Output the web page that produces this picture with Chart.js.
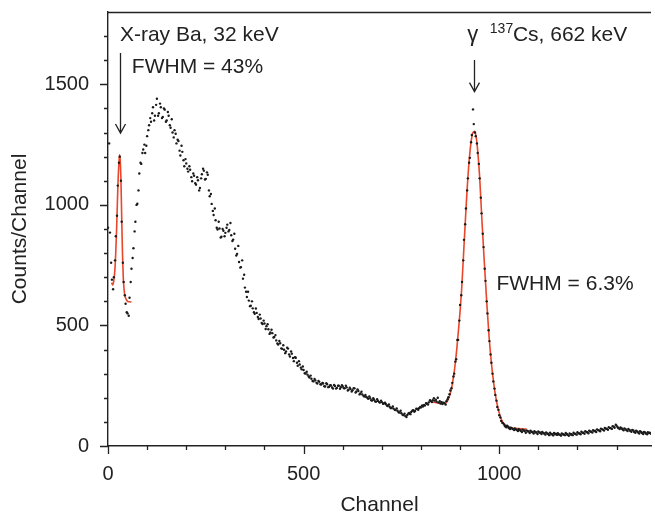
<!DOCTYPE html>
<html>
<head>
<meta charset="utf-8">
<script src="https://cdn.jsdelivr.net/npm/chart.js@4.4.1/dist/chart.umd.min.js"></script>
<style>
  html, body { margin: 0; padding: 0; background: #fff; }
  #wrap { width: 655px; height: 513px; }
</style>
</head>
<body>
<div id="wrap"><canvas id="spectrum"></canvas></div>
<script>
// spectrum readings, every 5 channels, two interleaved runs (channel 5i and 5i+3)
const CH_STEP = 5;
const countsA = [
  905, 885, 690, 700, 870, 1080, 1200, 930, 680, 590, 550, 615, 735, 820, 930, 1005, 1130, 1170, 1230, 1215,
  1285, 1330, 1345, 1405, 1370, 1440, 1380, 1405, 1365, 1395, 1350, 1370, 1320, 1300, 1310, 1255, 1265, 1205, 1220, 1160,
  1172, 1138, 1146, 1098, 1121, 1084, 1102, 1070, 1127, 1142, 1108, 1125, 1036, 1004, 958, 936, 898, 902, 868, 893,
  884, 918, 896, 874, 856, 818, 797, 763, 742, 694, 657, 618, 603, 582, 571, 548, 552, 527, 529, 506,
  508, 497, 484, 471, 468, 452, 438, 421, 426, 403, 399, 392, 404, 371, 383, 352, 366, 333, 338, 318,
  315, 301, 296, 284, 279, 268, 272, 259, 266, 255, 259, 247, 256, 246, 251, 238, 249, 241, 250, 244,
  247, 239, 243, 233, 236, 231, 239, 226, 228, 218, 214, 205, 203, 196, 198, 189, 192, 184, 187, 180,
  182, 176, 174, 166, 163, 158, 155, 149, 146, 139, 136, 128, 124, 129, 137, 141, 148, 146, 154, 157,
  160, 164, 168, 175, 181, 186, 190, 188, 184, 180, 176, 174, 178, 186, 202, 230, 262, 300, 360, 440,
  585, 680, 855, 985, 1110, 1195, 1290, 1335, 1285, 1215, 1110, 965, 825, 685, 550, 435, 345, 268, 212, 162,
  128, 104, 94, 82, 84, 74, 76, 70, 73, 66, 70, 63, 68, 62, 65, 60, 63, 57, 61, 56,
  60, 55, 58, 52, 56, 50, 55, 49, 54, 51, 53, 47, 52, 48, 54, 46, 52, 49, 55, 50,
  57, 52, 59, 55, 61, 57, 63, 59, 66, 62, 69, 65, 72, 68, 75, 71, 78, 74, 82, 76,
  84, 74, 77, 69, 73, 66, 71, 62, 67, 58, 63, 56, 61, 54, 58, 52, 57, 55
];
const countsB = [
  1255, 760, 650, 770, 955, 1175, 1100, 760, 625, 555, 540, 680, 780, 890, 1000, 1060, 1175, 1215, 1250, 1245,
  1310, 1360, 1380, 1350, 1415, 1370, 1420, 1360, 1400, 1345, 1385, 1330, 1355, 1280, 1295, 1270, 1225, 1245, 1185, 1190,
  1150, 1160, 1115, 1130, 1090, 1115, 1060, 1110, 1150, 1105, 1135, 1060, 1045, 975, 985, 905, 930, 865, 900, 870,
  905, 890, 925, 850, 880, 790, 830, 740, 770, 710, 640, 640, 580, 600, 555, 570, 535, 545, 510, 520,
  485, 505, 465, 482, 450, 460, 425, 436, 405, 418, 385, 408, 380, 392, 365, 368, 345, 352, 325, 330,
  302, 308, 288, 292, 270, 278, 262, 270, 256, 262, 248, 260, 244, 252, 243, 253, 238, 250, 237, 252,
  240, 250, 230, 242, 226, 240, 222, 235, 214, 225, 208, 212, 200, 206, 190, 198, 185, 194, 182, 188,
  175, 180, 168, 172, 157, 164, 150, 156, 140, 146, 130, 134, 120, 135, 132, 146, 142, 155, 150, 162,
  168, 170, 178, 172, 190, 182, 198, 192, 200, 186, 182, 180, 172, 194, 215, 240, 288, 350, 440, 520,
  625, 770, 920, 1060, 1175, 1260, 1396, 1300, 1255, 1170, 1030, 880, 735, 600, 480, 380, 300, 238, 188, 150,
  118, 96, 88, 78, 80, 70, 73, 66, 69, 62, 66, 58, 64, 55, 61, 54, 59, 52, 57, 50,
  56, 50, 54, 47, 52, 45, 50, 44, 49, 46, 48, 43, 49, 45, 50, 42, 48, 45, 51, 47,
  53, 49, 55, 51, 58, 53, 60, 56, 62, 58, 66, 61, 69, 64, 72, 67, 75, 71, 80, 88,
  78, 70, 74, 65, 70, 62, 67, 59, 64, 55, 60, 52, 58, 50, 56, 49, 54, 51
];

// fitted peaks
const xrayFitCh     = [9, 12, 15, 18, 20, 22, 24, 26, 28, 29.5, 31, 33, 35, 37, 39, 41, 43, 46, 50, 55, 60];
const xrayFitCounts = [678, 668, 688, 740, 810, 900, 1010, 1110, 1175, 1208, 1190, 1110, 950, 800, 700, 650, 625, 610, 600, 598, 597];

const csFitCh     = [826, 840, 852, 862, 868, 874, 880, 886, 892, 898, 904, 910, 916, 922, 928, 933, 937, 941, 945, 950, 956, 962, 968, 974, 980, 986, 992, 998, 1005, 1015, 1030, 1050, 1070];
const csFitCounts = [182, 180, 176, 177, 188, 212, 255, 320, 410, 520, 650, 830, 1010, 1160, 1260, 1300, 1305, 1282, 1225, 1115, 930, 760, 600, 455, 345, 260, 195, 150, 112, 87, 76, 72, 70];

// axes
const xTickValues = [0, 100, 200, 300, 400, 500, 600, 700, 800, 900, 1000, 1100, 1200, 1300];
const xTickLabels = [0, 500, 1000];
const yTickValues = [0, 100, 200, 300, 400, 500, 600, 700, 800, 900, 1000, 1100, 1200, 1300, 1400, 1500, 1600, 1700];
const yTickLabels = [0, 500, 1000, 1500];

const FONT = "'Liberation Sans', Arial, Helvetica, sans-serif";
const INK = '#222';
const FIT_RED = '#e8472b';

const toPoints = (xs, ys) => xs.map((v, i) => ({ x: v, y: ys[i] }));
const spectrumPoints = countsA.map((c, i) => ({ x: i * CH_STEP, y: c }))
  .concat(countsB.map((c, i) => ({ x: i * CH_STEP + 3, y: c })));

// arrows, texts and the short/long tick marks
const decorPlugin = {
  id: 'decor',
  afterDraw(chart) {
    const { ctx, chartArea: a, scales: { x, y } } = chart;
    ctx.save();
    ctx.strokeStyle = INK;
    ctx.lineWidth = 1.3;

    // top frame line
    ctx.beginPath();
    ctx.moveTo(a.left, a.top + 0.5);
    ctx.lineTo(a.right, a.top + 0.5);
    ctx.stroke();

    // tick marks (long at labelled ticks)
    ctx.beginPath();
    x.ticks.forEach(t => {
      const px = Math.round(x.getPixelForValue(t.value)) + 0.5;
      const len = t.label ? 8 : 4;
      ctx.moveTo(px, a.bottom);
      ctx.lineTo(px, a.bottom + len);
    });
    y.ticks.forEach(t => {
      const py = Math.round(y.getPixelForValue(t.value)) + 0.5;
      const len = t.label ? 8 : 4;
      ctx.moveTo(a.left, py);
      ctx.lineTo(a.left - len, py);
    });
    ctx.stroke();

    // arrows
    const arrow = (ch, from, to) => {
      const px = Math.round(x.getPixelForValue(ch)) + 0.5;
      const y1 = y.getPixelForValue(from);
      const y2 = y.getPixelForValue(to);
      ctx.beginPath();
      ctx.moveTo(px, y1);
      ctx.lineTo(px, y2);
      ctx.moveTo(px - 5, y2 - 9);
      ctx.lineTo(px, y2);
      ctx.lineTo(px + 5, y2 - 9);
      ctx.stroke();
    };
    arrow(30, 1630, 1298);
    arrow(935, 1601, 1470);

    // texts
    ctx.fillStyle = INK;
    ctx.textBaseline = 'alphabetic';
    ctx.textAlign = 'left';
    const text = (str, ch, c, size) => {
      ctx.font = size + 'px ' + FONT;
      ctx.fillText(str, x.getPixelForValue(ch), y.getPixelForValue(c));
    };
    text('X-ray Ba, 32 keV', 30.5, 1681, 21);
    text('FWHM = 43%', 61, 1547, 21);
    text('\u03b3', 918, 1681, 22);
    text('137', 976, 1713, 14);
    text('Cs, 662 keV', 1035, 1681, 21);
    text('FWHM = 6.3%', 993, 647, 21);
    ctx.restore();
  }
};

const ctx = document.getElementById('spectrum').getContext('2d');

new Chart(ctx, {
  type: 'scatter',
  data: {
    datasets: [
      {
        label: 'Spectrum',
        data: spectrumPoints,
        pointRadius: 1.2,
        pointBorderWidth: 0,
        pointBackgroundColor: '#1a1a1a',
        showLine: false,
        order: 0
      },
      {
        label: 'X-ray fit',
        data: toPoints(xrayFitCh, xrayFitCounts),
        showLine: true,
        borderColor: FIT_RED,
        borderWidth: 1.6,
        pointRadius: 0,
        cubicInterpolationMode: 'monotone',
        order: 1
      },
      {
        label: 'Cs fit',
        data: toPoints(csFitCh, csFitCounts),
        showLine: true,
        borderColor: FIT_RED,
        borderWidth: 1.6,
        pointRadius: 0,
        cubicInterpolationMode: 'monotone',
        order: 1
      }
    ]
  },
  options: {
    responsive: true,
    maintainAspectRatio: false,
    animation: false,
    layout: { padding: { top: 12, right: 0, bottom: 0, left: 0 } },
    plugins: {
      legend: { display: false },
      tooltip: { enabled: false }
    },
    scales: {
      x: {
        type: 'linear',
        min: 0,
        max: 1388,
        afterBuildTicks: s => { s.ticks = xTickValues.map(v => ({ value: v })); },
        afterFit: s => { s.height = 67; s.paddingLeft = 0; s.paddingRight = 0; },
        ticks: {
          autoSkip: false,
          maxRotation: 0,
          padding: 8,
          color: INK,
          font: { family: FONT, size: 20 },
          callback: v => xTickLabels.includes(v) ? String(v) : ''
        },
        grid: { display: false, tickLength: 8 },
        border: { display: true, color: INK, width: 1.4 },
        title: {
          display: true,
          text: 'Channel',
          color: INK,
          font: { family: FONT, size: 21, lineHeight: 0.72 },
          padding: { top: 0, bottom: 0 }
        }
      },
      y: {
        type: 'linear',
        min: 0,
        max: 1800,
        afterBuildTicks: s => { s.ticks = yTickValues.map(v => ({ value: v })); },
        afterFit: s => { s.width = 108; s.paddingTop = 0; s.paddingBottom = 0; },
        ticks: {
          autoSkip: false,
          padding: 11,
          color: INK,
          font: { family: FONT, size: 20 },
          callback: v => yTickLabels.includes(v) ? String(v) : ''
        },
        grid: { display: false, tickLength: 8 },
        border: { display: true, color: INK, width: 1.4 },
        title: {
          display: true,
          text: 'Counts/Channel',
          color: INK,
          font: { family: FONT, size: 21 },
          padding: { top: 8, bottom: 0 }
        }
      }
    }
  },
  plugins: [decorPlugin]
});
</script>
</body>
</html>
